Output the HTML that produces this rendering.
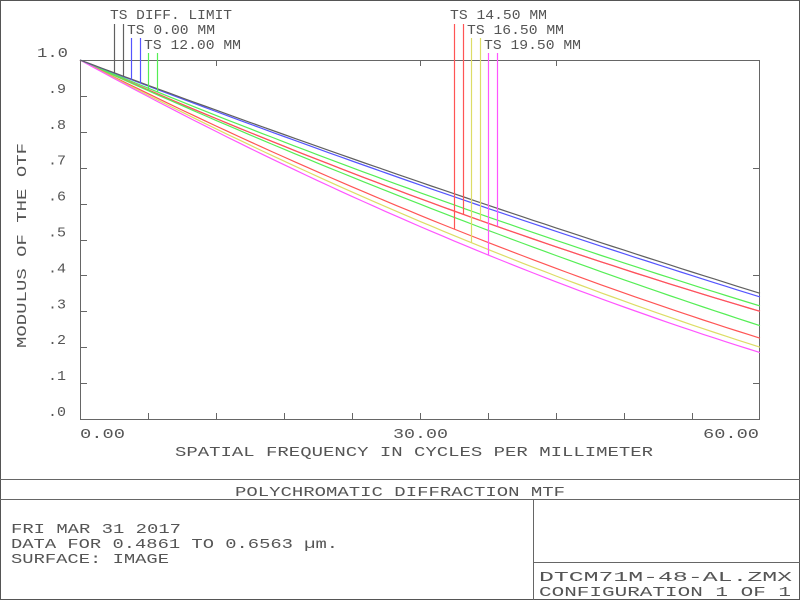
<!DOCTYPE html>
<html><head><meta charset="utf-8"><style>
html,body{margin:0;padding:0;background:#fff}
svg{display:block}
text{font-family:"Liberation Mono",monospace;font-size:14px;fill:#555}
</style></head><body>
<svg id="s" width="800" height="600" viewBox="0 0 800 600" xmlns="http://www.w3.org/2000/svg">
<rect x="0.5" y="0.5" width="799" height="599" fill="#fff" stroke="#555"/>
<g stroke="#666" stroke-width="1" fill="none">
<line x1="0" y1="479.5" x2="800" y2="479.5"/>
<line x1="0" y1="499.5" x2="800" y2="499.5"/>
<line x1="533.5" y1="499" x2="533.5" y2="600"/>
<line x1="533" y1="562.5" x2="800" y2="562.5"/>
<rect x="80.5" y="60.5" width="679" height="359"/>
</g>
<g id="ticks" stroke="#666" stroke-width="1"></g>
<g id="curves" fill="none" stroke-width="1.2"></g>
<g id="labs"></g>
<text x="110" y="19" textLength="122" lengthAdjust="spacingAndGlyphs">TS DIFF. LIMIT</text>
<text x="127" y="34" textLength="88" lengthAdjust="spacingAndGlyphs">TS 0.00 MM</text>
<text x="144" y="49" textLength="97" lengthAdjust="spacingAndGlyphs">TS 12.00 MM</text>
<text x="450" y="19" textLength="97" lengthAdjust="spacingAndGlyphs">TS 14.50 MM</text>
<text x="467" y="34" textLength="97" lengthAdjust="spacingAndGlyphs">TS 16.50 MM</text>
<text x="484" y="49" textLength="97" lengthAdjust="spacingAndGlyphs">TS 19.50 MM</text>
<text x="80" y="438" textLength="45" lengthAdjust="spacingAndGlyphs">0.00</text>
<text x="393" y="438" textLength="55" lengthAdjust="spacingAndGlyphs">30.00</text>
<text x="703" y="438" textLength="56" lengthAdjust="spacingAndGlyphs">60.00</text>
<text x="175" y="456" textLength="478" lengthAdjust="spacingAndGlyphs">SPATIAL FREQUENCY IN CYCLES PER MILLIMETER</text>
<text transform="translate(26,348) rotate(-90)" textLength="205" lengthAdjust="spacingAndGlyphs">MODULUS OF THE OTF</text>
<text x="235" y="496" textLength="330" lengthAdjust="spacingAndGlyphs">POLYCHROMATIC DIFFRACTION MTF</text>
<text x="11" y="533" textLength="170" lengthAdjust="spacingAndGlyphs">FRI MAR 31 2017</text>
<text x="11" y="548" textLength="327" lengthAdjust="spacingAndGlyphs">DATA FOR 0.4861 TO 0.6563 µm.</text>
<text x="11" y="563" textLength="158" lengthAdjust="spacingAndGlyphs">SURFACE: IMAGE</text>
<text x="539" y="581" textLength="253" lengthAdjust="spacingAndGlyphs">DTCM71M-48-AL.ZMX</text>
<text x="539" y="596" textLength="252" lengthAdjust="spacingAndGlyphs">CONFIGURATION 1 OF 1</text>
</svg>
<script>
var NS="http://www.w3.org/2000/svg";
function el(p,t,a){var e=document.createElementNS(NS,t);for(var k in a)e.setAttribute(k,a[k]);p.appendChild(e);return e;}
var X=function(f){return 80+f*680/60;}, Y=function(m){return 60+(1-m)*359;};
var tg=document.getElementById('ticks');
for(var i=1;i<=9;i++){var x=80+i*68;el(tg,'line',{x1:x+.5,y1:413,x2:x+.5,y2:419});}
[216,420,556].forEach(function(x){el(tg,'line',{x1:x+.5,y1:60,x2:x+.5,y2:66});});
for(var j=1;j<=9;j++){var y=Math.round(Y(j/10))+.5;el(tg,'line',{x1:80,y1:y,x2:87,y2:y});}
[0.4,0.7,0.1].forEach(function(v){var y=Math.round(Y(v))+.5;el(tg,'line',{x1:753,y1:y,x2:760,y2:y});});
var lg=document.getElementById('labs');
var yl=['.0','.1','.2','.3','.4','.5','.6','.7','.8','.9'];
for(var k=0;k<10;k++){var t=el(lg,'text',{x:48,y:Y(k/10)-3,textLength:18,lengthAdjust:'spacingAndGlyphs'});t.textContent=yl[k];}
var t1=el(lg,'text',{x:37,y:Y(1)-3,textLength:31,lengthAdjust:'spacingAndGlyphs'});t1.textContent='1.0';
var C={k:'#606060',b:'#5555ff',g:'#55ee55',r:'#ff5555',y:'#dddd66',p:'#ff55ff'};
var cv=[['y',0.30,4e-5],['p',0.30,4e-5],['r',0.30,4e-5],['g',0.26,3.5e-5],['r',0.225,5e-5],['y',0.20,5.5e-5],['p',0.185,6.25e-5],['g',0.315,3e-5],['b',0.34,2e-5],['k',0.35,1.67e-5]];
function m(c,f){var a=(1-c[1]+3600*c[2])/60;return 1-a*f+c[2]*f*f;}
var cg=document.getElementById('curves');
cv.forEach(function(c){var d='';for(var f=0;f<=60;f+=1){d+=(f?'L':'M')+X(f).toFixed(1)+','+Y(m(c,f)).toFixed(1);}el(cg,'path',{d:d,stroke:C[c[0]]});});
var vl=[[114,24,cv[9]],[123,24,cv[9]],[131,38,cv[8]],[140,38,cv[8]],[148,53,cv[3]],[157,53,cv[7]],
[454,24,cv[4]],[463,24,cv[2]],[471,38,cv[5]],[480,38,cv[0]],[488,53,cv[6]],[497,53,cv[1]]];
vl.forEach(function(v){var f=(v[0]-80)*60/680;el(cg,'line',{x1:v[0]+.5,y1:v[1],x2:v[0]+.5,y2:Y(m(v[2],f)),stroke:C[v[2][0]]});});
</script>
</body></html>
